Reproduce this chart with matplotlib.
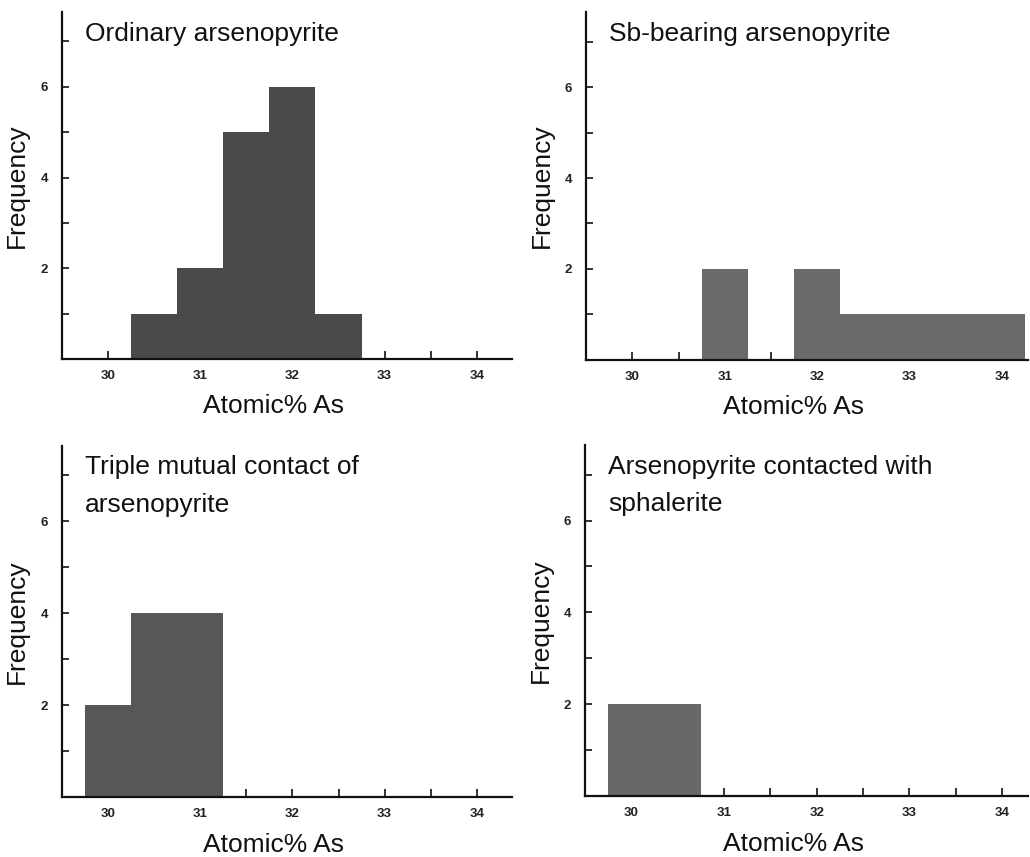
import matplotlib
matplotlib.use("Agg")
import matplotlib.pyplot as plt
from matplotlib import font_manager

names = {f.name for f in font_manager.fontManager.ttflist}
narrow = "Liberation Sans Narrow" if "Liberation Sans Narrow" in names else "Liberation Sans"

# Data: bin centers (Atomic% As) and frequencies, bin width 0.5
titles = ["Ordinary arsenopyrite", "Sb-bearing arsenopyrite",
          "Triple mutual contact of\narsenopyrite", "Arsenopyrite contacted with\nsphalerite"]
centers_ordinary = [30.5, 31.0, 31.5, 32.0, 32.5]
counts_ordinary = [1, 2, 5, 6, 1]
centers_sb = [31.0, 32.0, 32.5, 33.0, 33.5, 34.0]
counts_sb = [2, 2, 1, 1, 1, 1]
centers_triple = [30.0, 30.5, 31.0]
counts_triple = [2, 4, 4]
centers_sphal = [30.0, 30.5]
counts_sphal = [2, 2]
xticks = [30, 31, 32, 33, 34]
yticks = [2, 4, 6]

bin_width = 0.5
series = [(centers_ordinary, counts_ordinary), (centers_sb, counts_sb),
          (centers_triple, counts_triple), (centers_sphal, counts_sphal)]
colors = ["#4a4a4a", "#6a6a6a", "#575757", "#686868"]
positions = [
    [0.060, 0.581, 0.437, 0.405],
    [0.569, 0.580, 0.429, 0.406],
    [0.060, 0.070, 0.437, 0.410],
    [0.568, 0.071, 0.430, 0.410],
]

fig = plt.figure(figsize=(10.30, 8.57), dpi=100)
for i, ((cx, cy), pos) in enumerate(zip(series, positions)):
    ax = fig.add_axes(pos)
    ax.bar(cx, cy, width=bin_width, color=colors[i], linewidth=0, zorder=2)
    ax.set_xlim(29.5, 34.38 if i % 2 == 0 else 34.28)
    ax.set_ylim(0, 7.65)
    for s in ["top", "right"]:
        ax.spines[s].set_visible(False)
    for s in ["left", "bottom"]:
        ax.spines[s].set_linewidth(1.6)
        ax.spines[s].set_color("#111111")
    ax.set_xticks(xticks)
    ax.set_xticks([30.5, 31.5, 32.5, 33.5], minor=True)
    ax.set_yticks(yticks)
    ax.set_yticks([1, 3, 5, 7], minor=True)
    ax.tick_params(axis="both", which="both", direction="in", width=1.2, color="#111111")
    ax.tick_params(axis="x", which="both", length=6, pad=8)
    ax.tick_params(axis="y", which="both", length=5, pad=10)
    for lab in ax.get_xticklabels() + ax.get_yticklabels():
        lab.set_fontfamily("Liberation Sans")
        lab.set_fontweight("bold")
        lab.set_fontsize(9.5)
        lab.set_color("#222222")
    ax.set_xlabel("Atomic% As", fontsize=19, family="Liberation Sans", color="#111111")
    ax.xaxis.set_label_coords(0.47, -0.102)
    ax.set_ylabel("Frequency", fontsize=19, family="Liberation Sans", color="#111111", labelpad=8)
    ax.text(0.052, 0.972, titles[i], transform=ax.transAxes, ha="left", va="top",
            fontsize=19, family=narrow, color="#111111", linespacing=1.7)

fig.savefig("out.png", dpi=100)
